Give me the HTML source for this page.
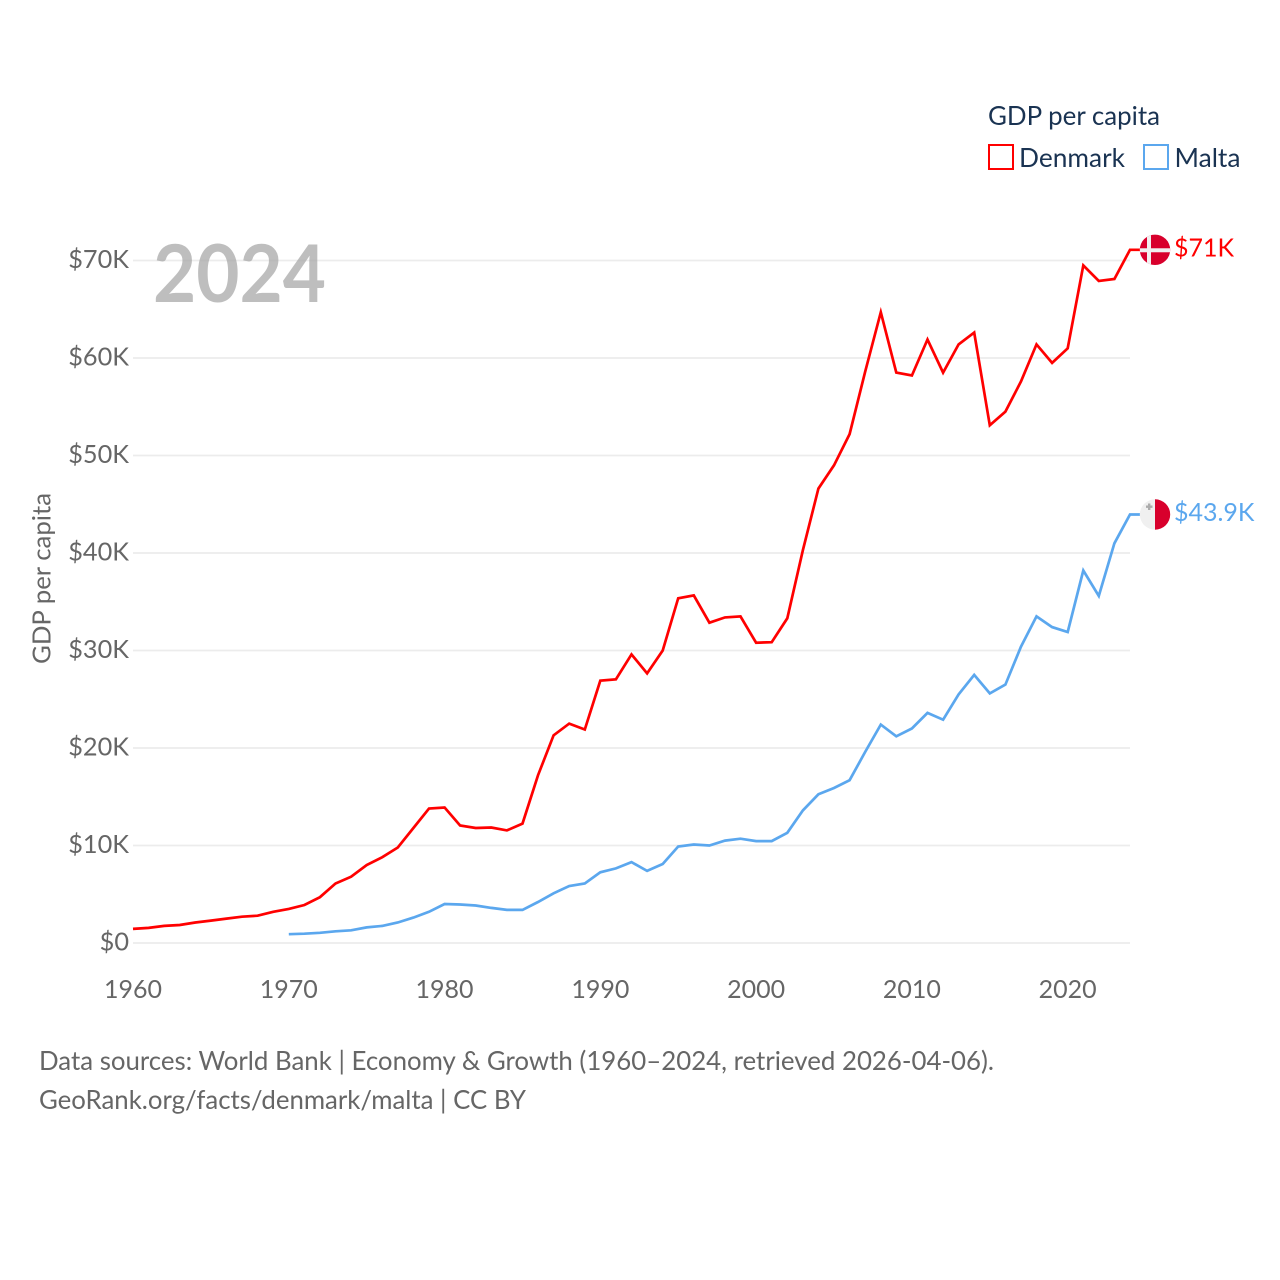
<!DOCTYPE html>
<html lang="en">
<head>
<meta charset="utf-8">
<title>GDP per capita: Denmark and Malta</title>
<style>
html,body{margin:0;padding:0;background:#fff;}
svg{display:block;font-family:"Lato","Carlito","Liberation Sans",sans-serif;}
</style>
</head>
<body>
<svg id="chart" xmlns="http://www.w3.org/2000/svg" width="1280" height="1280" viewBox="0 0 1280 1280">
  <rect width="1280" height="1280" fill="#fff"/>
  <g id="grid"></g>
  <g id="yticks"></g>
  <g id="xticks"></g>
  <text x="153" y="302" font-size="80" font-weight="700" fill="#a8a8a8" fill-opacity="0.75" textLength="173" lengthAdjust="spacingAndGlyphs">2024</text>
  <text transform="translate(50.5,578.5) rotate(-90)" text-anchor="middle" font-size="25" fill="#666" textLength="171" lengthAdjust="spacingAndGlyphs">GDP per capita</text>
  <g id="series"></g>
  <g>
    <text x="988" y="125" font-size="26" fill="#1a3352" textLength="172" lengthAdjust="spacingAndGlyphs">GDP per capita</text>
    <rect x="989" y="145" width="24" height="24" fill="none" stroke="#ff0000" stroke-width="2"/>
    <text x="1019" y="167" font-size="26" fill="#1a3352" textLength="106" lengthAdjust="spacingAndGlyphs">Denmark</text>
    <rect x="1144" y="145" width="24" height="24" fill="none" stroke="#5ba7ee" stroke-width="2"/>
    <text x="1174.5" y="167" font-size="26" fill="#1a3352" textLength="66" lengthAdjust="spacingAndGlyphs">Malta</text>
  </g>
  <g id="flags"></g>
  <g>
    <text x="39" y="1070" font-size="26" fill="#666" textLength="955" lengthAdjust="spacingAndGlyphs">Data sources: World Bank | Economy &amp; Growth (1960–2024, retrieved 2026-04-06).</text>
    <text x="39" y="1109" font-size="26" fill="#666" textLength="487" lengthAdjust="spacingAndGlyphs">GeoRank.org/facts/denmark/malta | CC BY</text>
  </g>
</svg>
<script>
const years = [1960,1961,1962,1963,1964,1965,1966,1967,1968,1969,1970,1971,1972,1973,1974,1975,1976,1977,1978,1979,1980,1981,1982,1983,1984,1985,1986,1987,1988,1989,1990,1991,1992,1993,1994,1995,1996,1997,1998,1999,2000,2001,2002,2003,2004,2005,2006,2007,2008,2009,2010,2011,2012,2013,2014,2015,2016,2017,2018,2019,2020,2021,2022,2023,2024];
const denmarkValues = [1.45,1.55,1.75,1.85,2.1,2.3,2.5,2.7,2.8,3.2,3.5,3.9,4.7,6.1,6.8,8.0,8.8,9.8,11.8,13.8,13.9,12.05,11.8,11.85,11.55,12.25,17.2,21.3,22.5,21.9,26.9,27.05,29.6,27.65,30.0,35.35,35.65,32.85,33.4,33.5,30.8,30.85,33.3,40.3,46.6,49.0,52.2,58.6,64.7,58.5,58.2,61.9,58.5,61.4,62.6,53.1,54.5,57.6,61.4,59.5,61.0,69.5,67.9,68.1,71.1];
const maltaValues = [null,null,null,null,null,null,null,null,null,null,0.9,0.95,1.05,1.2,1.3,1.6,1.75,2.1,2.6,3.2,4.0,3.95,3.85,3.6,3.4,3.4,4.2,5.1,5.85,6.1,7.25,7.65,8.3,7.4,8.1,9.9,10.1,10.0,10.5,10.7,10.45,10.45,11.3,13.6,15.25,15.9,16.7,19.6,22.4,21.2,22.0,23.6,22.9,25.5,27.5,25.6,26.5,30.4,33.5,32.4,31.9,38.2,35.6,41.0,43.95];
const yTickValues = [0,10,20,30,40,50,60,70];
const yTickLabels = ["$0","$10K","$20K","$30K","$40K","$50K","$60K","$70K"];
const xTickValues = [1960,1970,1980,1990,2000,2010,2020];
const endLabels = ["$71K","$43.9K"];

const NS = "http://www.w3.org/2000/svg";
const PLOT = {x0:133, x1:1130, y0:943, y70:260.5, ext:10};
function xScale(year){ return PLOT.x0 + (year - years[0]) * (PLOT.x1 - PLOT.x0) / (years[years.length-1] - years[0]); }
function yScale(v){ return PLOT.y0 - v * (PLOT.y0 - PLOT.y70) / 70; }
function make(tag, attrs, parent, txt){
  const el = document.createElementNS(NS, tag);
  for (const k in attrs) el.setAttribute(k, attrs[k]);
  if (txt !== undefined) el.textContent = txt;
  parent.appendChild(el);
  return el;
}
const gridG = document.getElementById("grid");
const yG = document.getElementById("yticks");
const xG = document.getElementById("xticks");
const seriesG = document.getElementById("series");
const flagsG = document.getElementById("flags");

yTickValues.forEach(function(v,i){
  const line = make("line",{x1:133,x2:1130,y1:yScale(v),y2:yScale(v),stroke:"#ececec","stroke-width":1.7},gridG);
  
  
  const t = make("text",{x:129,y:yScale(v)+7.5,"text-anchor":"end","font-size":25.3,fill:"#666"},yG,yTickLabels[i]);
  
  
});
xTickValues.forEach(function(y){
  const t = make("text",{x:xScale(y),y:998,"text-anchor":"middle","font-size":25,fill:"#666"},xG,String(y));
  
  
});
function linePoints(values){
  const pts = [];
  values.forEach(function(v,i){ if (v !== null) pts.push(xScale(years[i]).toFixed(1)+","+yScale(v).toFixed(1)); });
  const last = values[values.length-1];
  pts.push((PLOT.x1 + PLOT.ext)+","+yScale(last).toFixed(1));
  return pts.join(" ");
}
const denmarkLine = make("polyline",{points:linePoints(denmarkValues),fill:"none",stroke:"#ff0000","stroke-width":2.7,"stroke-linejoin":"miter"},seriesG);


const maltaLine = make("polyline",{points:linePoints(maltaValues),fill:"none",stroke:"#5ba7ee","stroke-width":2.7,"stroke-linejoin":"miter"},seriesG);



const defs = make("defs",{},flagsG);
function endMarker(id, value, label, color, draw){
  const cy = yScale(value), cx = 1155;
  const cp = make("clipPath",{id:"clip-"+id},defs);
  make("circle",{cx:cx,cy:cy,r:15.2},cp);
  const g = make("g",{"clip-path":"url(#clip-"+id+")"},flagsG);
  
  
  draw(g,cx,cy);
  const t = make("text",{x:1174,y:cy+6.5,"font-size":25,fill:color},flagsG,label);
  
  
}
endMarker("denmark", denmarkValues[denmarkValues.length-1], endLabels[0], "#ff0000", function(g,cx,cy){
  make("rect",{x:cx-16,y:cy-16,width:32,height:32,fill:"#d8002c"},g);
  make("rect",{x:cx-8,y:cy-16,width:4,height:32,fill:"#f0f0f0"},g);
  make("rect",{x:cx-16,y:cy-1.5,width:32,height:4,fill:"#f0f0f0"},g);
});
endMarker("malta", maltaValues[maltaValues.length-1], endLabels[1], "#5ba7ee", function(g,cx,cy){
  make("rect",{x:cx-16,y:cy-16,width:16,height:32,fill:"#f0f0f0"},g);
  make("rect",{x:cx,y:cy-16,width:16,height:32,fill:"#d8002c"},g);
  make("rect",{x:cx-9,y:cy-9,width:6.5,height:2.4,fill:"#acacac"},g);
  make("rect",{x:cx-7,y:cy-11,width:2.4,height:6.5,fill:"#acacac"},g);
});
</script>
</body>
</html>
